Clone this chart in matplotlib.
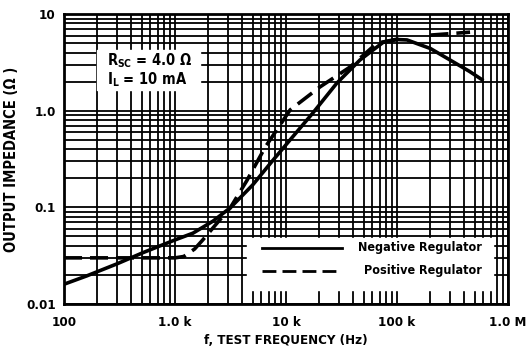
import numpy as np
import matplotlib.pyplot as plt
from matplotlib.ticker import NullFormatter, LogLocator

plt.rcParams['font.family'] = ['DejaVu Sans']
plt.rcParams['font.stretch'] = 'condensed'
plt.rcParams['mathtext.fontset'] = 'custom'
plt.rcParams['mathtext.rm'] = 'DejaVu Sans:weight=bold:stretch=condensed'
plt.rcParams['mathtext.bf'] = 'DejaVu Sans:weight=bold:stretch=condensed'

neg_f = [100, 160, 300, 516, 1000, 1450, 2200, 3150, 5000, 7500, 10900, 17500, 28700,
         46400, 75000, 100000, 123000, 200000, 300000, 450000, 600000]
neg_z = [0.0160, 0.0195, 0.026, 0.034, 0.046, 0.054, 0.072, 0.099, 0.17, 0.30, 0.50, 0.95,
         1.93, 3.35, 5.1, 5.45, 5.4, 4.4, 3.35, 2.55, 2.05]

pos_f = [100, 1000, 1200, 1500, 1780, 2400, 3150, 4450, 6500, 10900, 20200, 37700, 66000,
         100000, 120000]
pos_z = [0.030, 0.030, 0.031, 0.037, 0.046, 0.069, 0.099, 0.19, 0.42, 1.02, 1.76, 2.83,
         5.0, 5.5, 5.6]
pos2_f = [200000, 455000]
pos2_z = [6.06, 6.5]

x_ticks = [100, 1e3, 1e4, 1e5, 1e6]
x_labels = ['100', '1.0 k', '10 k', '100 k', '1.0 M']
y_ticks = [0.01, 0.1, 1, 10]
y_labels = ['0.01', '0.1', '1.0', '10']

fig = plt.figure(figsize=(5.27, 3.61), dpi=100)
ax = fig.add_axes([0.1214, 0.158, 0.8426, 0.803])
ax.set_xscale('log')
ax.set_yscale('log')
ax.set_xlim(100, 1e6)
ax.set_ylim(0.01, 10)

ax.set_xticks(x_ticks)
ax.set_xticklabels(x_labels)
ax.set_yticks(y_ticks)
ax.set_yticklabels(y_labels)
ax.xaxis.set_minor_locator(LogLocator(base=10, subs=np.arange(2, 10)))
ax.yaxis.set_minor_locator(LogLocator(base=10, subs=np.arange(2, 10)))
ax.xaxis.set_minor_formatter(NullFormatter())
ax.yaxis.set_minor_formatter(NullFormatter())
ax.tick_params(which='both', length=0, labelsize=9.5)
ax.tick_params(axis='x', pad=9)
ax.tick_params(axis='y', pad=6)
for lab in ax.get_xticklabels() + ax.get_yticklabels():
    lab.set_fontweight('bold')

ax.grid(True, which='both', color='black', linewidth=1.3)
ax.set_axisbelow(True)
for s in ax.spines.values():
    s.set_linewidth(2)

ax.plot(neg_f, neg_z, color='black', lw=2.6, solid_capstyle='butt', zorder=4)
ax.plot(pos_f, pos_z, color='black', lw=2.6, ls=(0, (5, 2.2)), zorder=4)
ax.plot(pos2_f, pos2_z, color='black', lw=2.6, ls=(0, (5, 2.2)), zorder=4)

# annotation box upper-left
ax.fill_between([198, 1680], 1.64, 4.25, color='white', zorder=3)
ax.text(245, 2.65, r'R$_{\mathrm{SC}}$ = 4.0 $\Omega$' + '\n' + r'I$_{\mathrm{L}}$ = 10 mA',
        fontsize=10.5, fontweight='bold', va='center', ha='left', linespacing=1.0,
        zorder=5)

# legend-like box lower-right
ax.fill_between([4450, 7.3e5], 0.014, 0.048, color='white', zorder=3)
ax.plot([6080, 3.2e4], [0.038, 0.038], color='black', lw=2.0, zorder=5)
ax.plot([6080, 3.2e4], [0.022, 0.022], color='black', lw=2.0, ls=(0, (5, 2.2)), zorder=5)
ax.text(5.8e5, 0.038, 'Negative Regulator', fontsize=9, fontweight='bold',
        ha='right', va='center', zorder=6)
ax.text(5.8e5, 0.022, 'Positive Regulator', fontsize=9, fontweight='bold',
        ha='right', va='center', zorder=6)

ax.set_xlabel('f, TEST FREQUENCY (Hz)', fontsize=9.5, fontweight='bold', labelpad=3)
ax.set_ylabel('OUTPUT IMPEDANCE (\u03a9 )', fontsize=10.5, fontweight='bold', labelpad=5)

fig.savefig('out.png', dpi=100)
